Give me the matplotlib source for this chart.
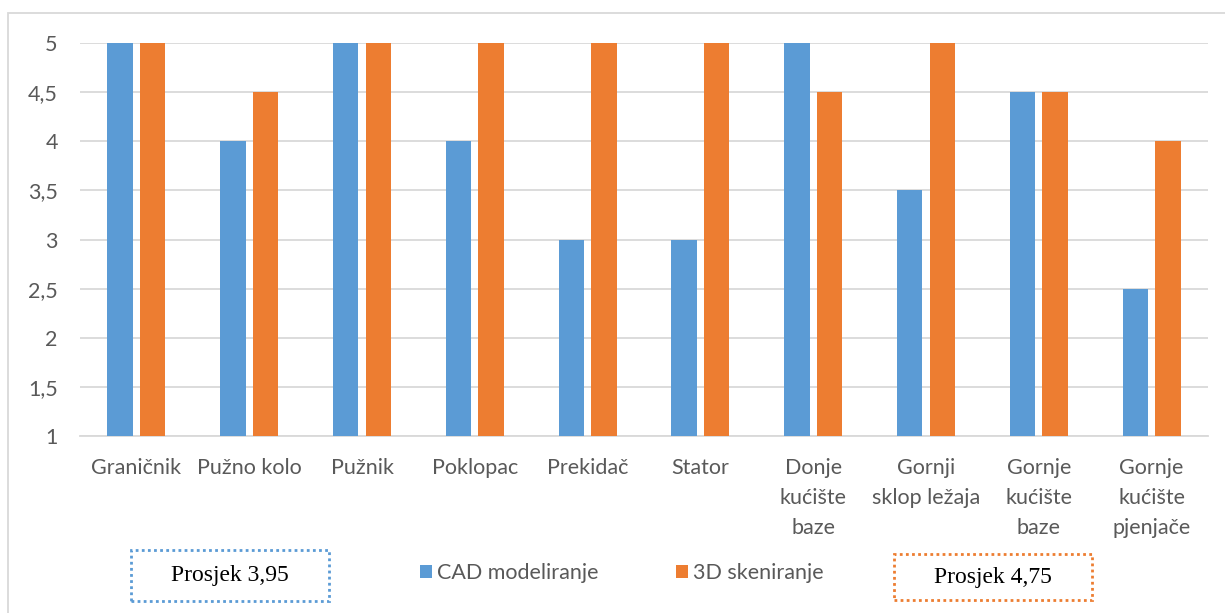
import matplotlib
matplotlib.use("Agg")
import matplotlib.pyplot as plt
from matplotlib.patches import Rectangle
import numpy as np

categories = ["Graničnik", "Pužno kolo", "Pužnik", "Poklopac", "Prekidač", "Stator",
              "Donje\nkućište\nbaze", "Gornji\nsklop ležaja", "Gornje\nkućište\nbaze",
              "Gornje\nkućište\npjenjače"]
cad_values = [5, 4, 5, 4, 3, 3, 5, 3.5, 4.5, 2.5]
scan_values = [5, 4.5, 5, 5, 5, 5, 4.5, 5, 4.5, 4]
series_names = ["CAD modeliranje", "3D skeniranje"]
y_ticks = [1, 1.5, 2, 2.5, 3, 3.5, 4, 4.5, 5]

blue = "#5B9BD5"
orange = "#ED7D31"
grid_c = "#D9D9D9"
text_c = "#595959"
font = "Lato"
fsize = 15.5

W, H = 1225, 613
fig = plt.figure(figsize=(W / 100, H / 100), dpi=100)

# outer chart border
fig.add_artist(Rectangle((8 / W, -0.01), 1.02 - 8 / W, 1 - 13 / H + 0.01,
                         transform=fig.transFigure, fill=False,
                         edgecolor=grid_c, linewidth=1.3))

ax = fig.add_axes([80 / W, 1 - 436 / H, 1128 / W, (436 - 43) / H])
x = np.arange(len(categories))
bw = 0.225
ax.bar(x - 0.145, np.array(cad_values) - 1, bw, bottom=1, color=blue,
       label=series_names[0], zorder=3)
ax.bar(x + 0.145, np.array(scan_values) - 1, bw, bottom=1, color=orange,
       label=series_names[1], zorder=3)

ax.set_xlim(-0.5, len(categories) - 0.5)
ax.set_ylim(1, 5)
ax.set_yticks(y_ticks)
ax.set_yticklabels([f"{v:g}".replace(".", ",") for v in y_ticks],
                   fontfamily=font, fontsize=fsize, color=text_c)
ax.set_xticks(x)
ax.set_xticklabels(categories, fontfamily=font, fontsize=fsize, color=text_c,
                   linespacing=1.62, va="top")
ax.tick_params(axis="both", length=0)
ax.tick_params(axis="y", pad=16)
ax.tick_params(axis="x", pad=16)
for s in ["top", "right", "left"]:
    ax.spines[s].set_visible(False)
ax.spines["bottom"].set_color(grid_c)
ax.spines["bottom"].set_linewidth(1.3)
ax.yaxis.grid(True, color=grid_c, linewidth=1.3, zorder=0)
ax.set_axisbelow(True)

# legend
leg = fig.legend(loc="center", bbox_to_anchor=(622 / W, 1 - 573 / H), ncol=2,
                 frameon=False, prop={"family": font, "size": fsize},
                 handlelength=0.55, handleheight=0.55, handletextpad=0.25,
                 columnspacing=3.6)
for t in leg.get_texts():
    t.set_color(text_c)

# average boxes
cad_avg = np.mean(cad_values)
scan_avg = np.mean(scan_values)
for (x0, y0, x1, y1), col, val in [((131, 550, 329, 601), blue, cad_avg),
                                   ((894, 554, 1092, 600), orange, scan_avg)]:
    fig.add_artist(Rectangle((x0 / W, 1 - y1 / H), (x1 - x0) / W, (y1 - y0) / H,
                             transform=fig.transFigure, fill=False, edgecolor=col,
                             linewidth=2, linestyle=(0, (1, 1.2))))
    fig.text((x0 + x1) / 2 / W, 1 - (y0 + y1) / 2 / H,
             f"Prosjek {val:.2f}".replace(".", ","), ha="center", va="center",
             fontfamily="Liberation Serif", fontsize=17, color="black")

fig.savefig("out.png", dpi=100)
